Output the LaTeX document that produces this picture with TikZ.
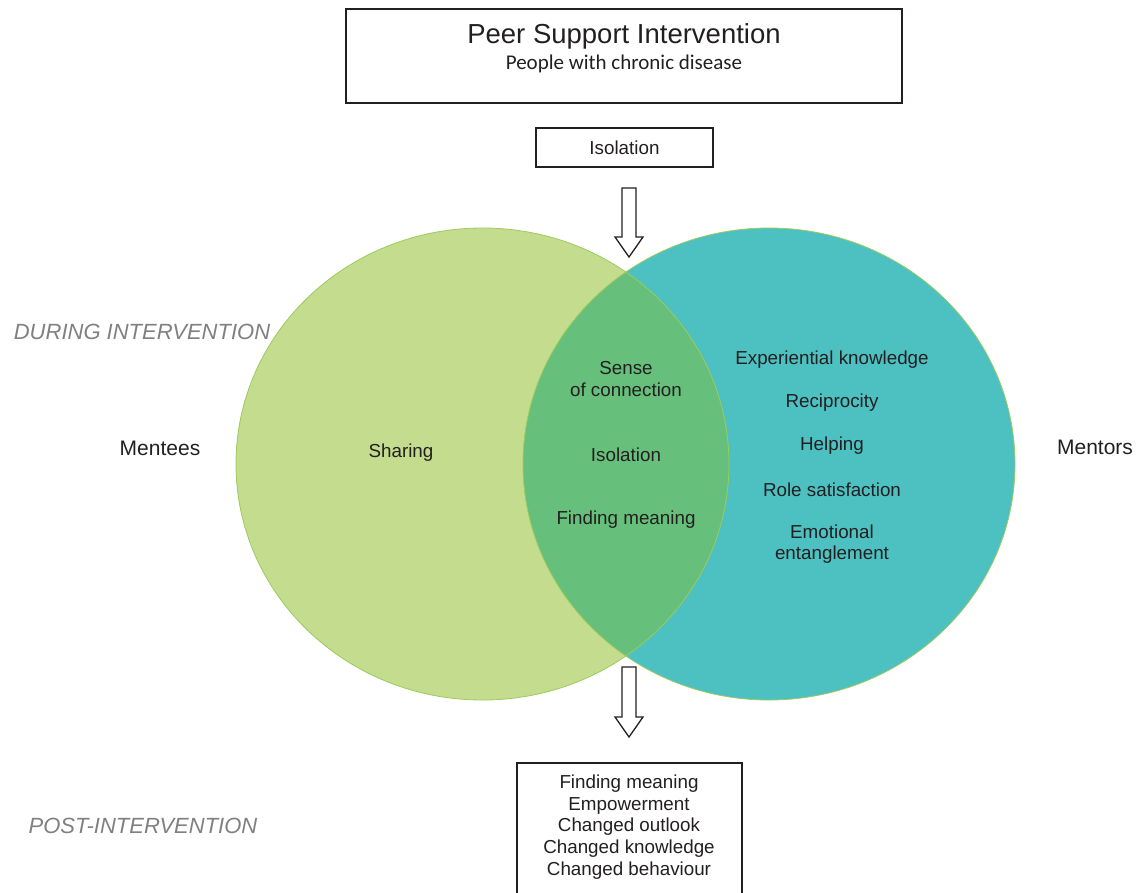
\documentclass[tikz,border=0pt]{standalone}
\usepackage{fontspec}
\setmainfont{Liberation Sans}
\newfontfamily\subtitlefont{Carlito}
\definecolor{menteefill}{HTML}{C3DC8D}
\definecolor{mentorfill}{HTML}{4DC0C1}
\definecolor{overlapfill}{HTML}{67BF7C}
\definecolor{rimgreen}{HTML}{9CCB5E}
\definecolor{ink}{HTML}{231F20}
\definecolor{phasegray}{HTML}{808080}
\begin{document}
\begin{tikzpicture}[x=1pt,y=-1pt,
  every node/.style={text=ink, inner sep=0pt},
  lbl/.style={font=\fontsize{18.8}{21.6}\selectfont, align=center},
  side/.style={font=\fontsize{21}{25}\selectfont},
  phase/.style={font=\fontsize{22}{26}\selectfont\itshape, text=phasegray},
  frame/.style={draw=ink, line width=1.2pt},
  blockarrow/.style={draw=ink, line width=1.3pt, fill=white, line join=miter},
  rim/.style={draw=rimgreen, line width=0.8pt}]
\useasboundingbox (0,0) rectangle (1138,892);

% header box
\node[frame, minimum width=556, minimum height=94] (header) at (624,56) {};
\node[font=\fontsize{27.5}{32}\selectfont] (title) at (624,36) {Peer Support Intervention};
\node[font=\subtitlefont\fontsize{21}{25}\selectfont] (subtitle) at (624,64) {People with chronic disease};

% isolation before the intervention
\node[frame, lbl, minimum width=177, minimum height=39] (iso) at (624.5,147.5) {Isolation};

% arrow into the overlap
\coordinate (inarrow) at (629,188);
\draw[blockarrow, shift={(inarrow)}] (-7,0) -- (7,0) -- (7,49) -- (14,49) -- (0,69) -- (-14,49) -- (-7,49) -- cycle;

% the two circles and their overlap
\coordinate (lc) at (482.5,464);
\coordinate (rc) at (769,464);
\fill[menteefill] (lc) ellipse [x radius=246.5, y radius=236];
\fill[mentorfill] (rc) ellipse [x radius=246, y radius=236];
\begin{scope}
  \clip (lc) ellipse [x radius=246.5, y radius=236];
  \fill[overlapfill] (rc) ellipse [x radius=246, y radius=236];
\end{scope}
\draw[rim] (lc) ellipse [x radius=246.5, y radius=236];
\draw[rim] (rc) ellipse [x radius=246, y radius=236];

% phase labels
\node[phase] (during) at (142,332) {DURING INTERVENTION};
\node[phase] (post) at (143,826) {POST-INTERVENTION};

% groups
\node[side] (mentees) at (160,448) {Mentees};
\node[side] (mentors) at (1095,447) {Mentors};

% mentee circle
\node[lbl] (sharing) at (401,453) {Sharing};

% overlap
\node[lbl] (connection) at (626,379) {Sense\\of connection};
\node[lbl] (isolation) at (626,455) {Isolation};
\node[lbl] (meaning) at (626,520) {Finding meaning};

% mentor circle
\node[lbl] (knowledge) at (832,360) {Experiential knowledge};
\node[lbl] (reciprocity) at (832,403) {Reciprocity};
\node[lbl] (helping) at (832,446) {Helping};
\node[lbl] (role) at (832,490) {Role satisfaction};
\node[lbl] (emotional) at (832,544) {Emotional\\entanglement};

% arrow to the outcomes
\coordinate (outarrow) at (629,667);
\draw[blockarrow, shift={(outarrow)}] (-7,0) -- (7,0) -- (7,50) -- (14,50) -- (0,70) -- (-14,50) -- (-7,50) -- cycle;

% outcomes box
\node[frame, minimum width=225, minimum height=150] (outcomes) at (629.5,838) {};
\node[lbl] (outcomelist) at (629,827) {Finding meaning\\Empowerment\\Changed outlook\\Changed knowledge\\Changed behaviour};
\end{tikzpicture}
\end{document}
